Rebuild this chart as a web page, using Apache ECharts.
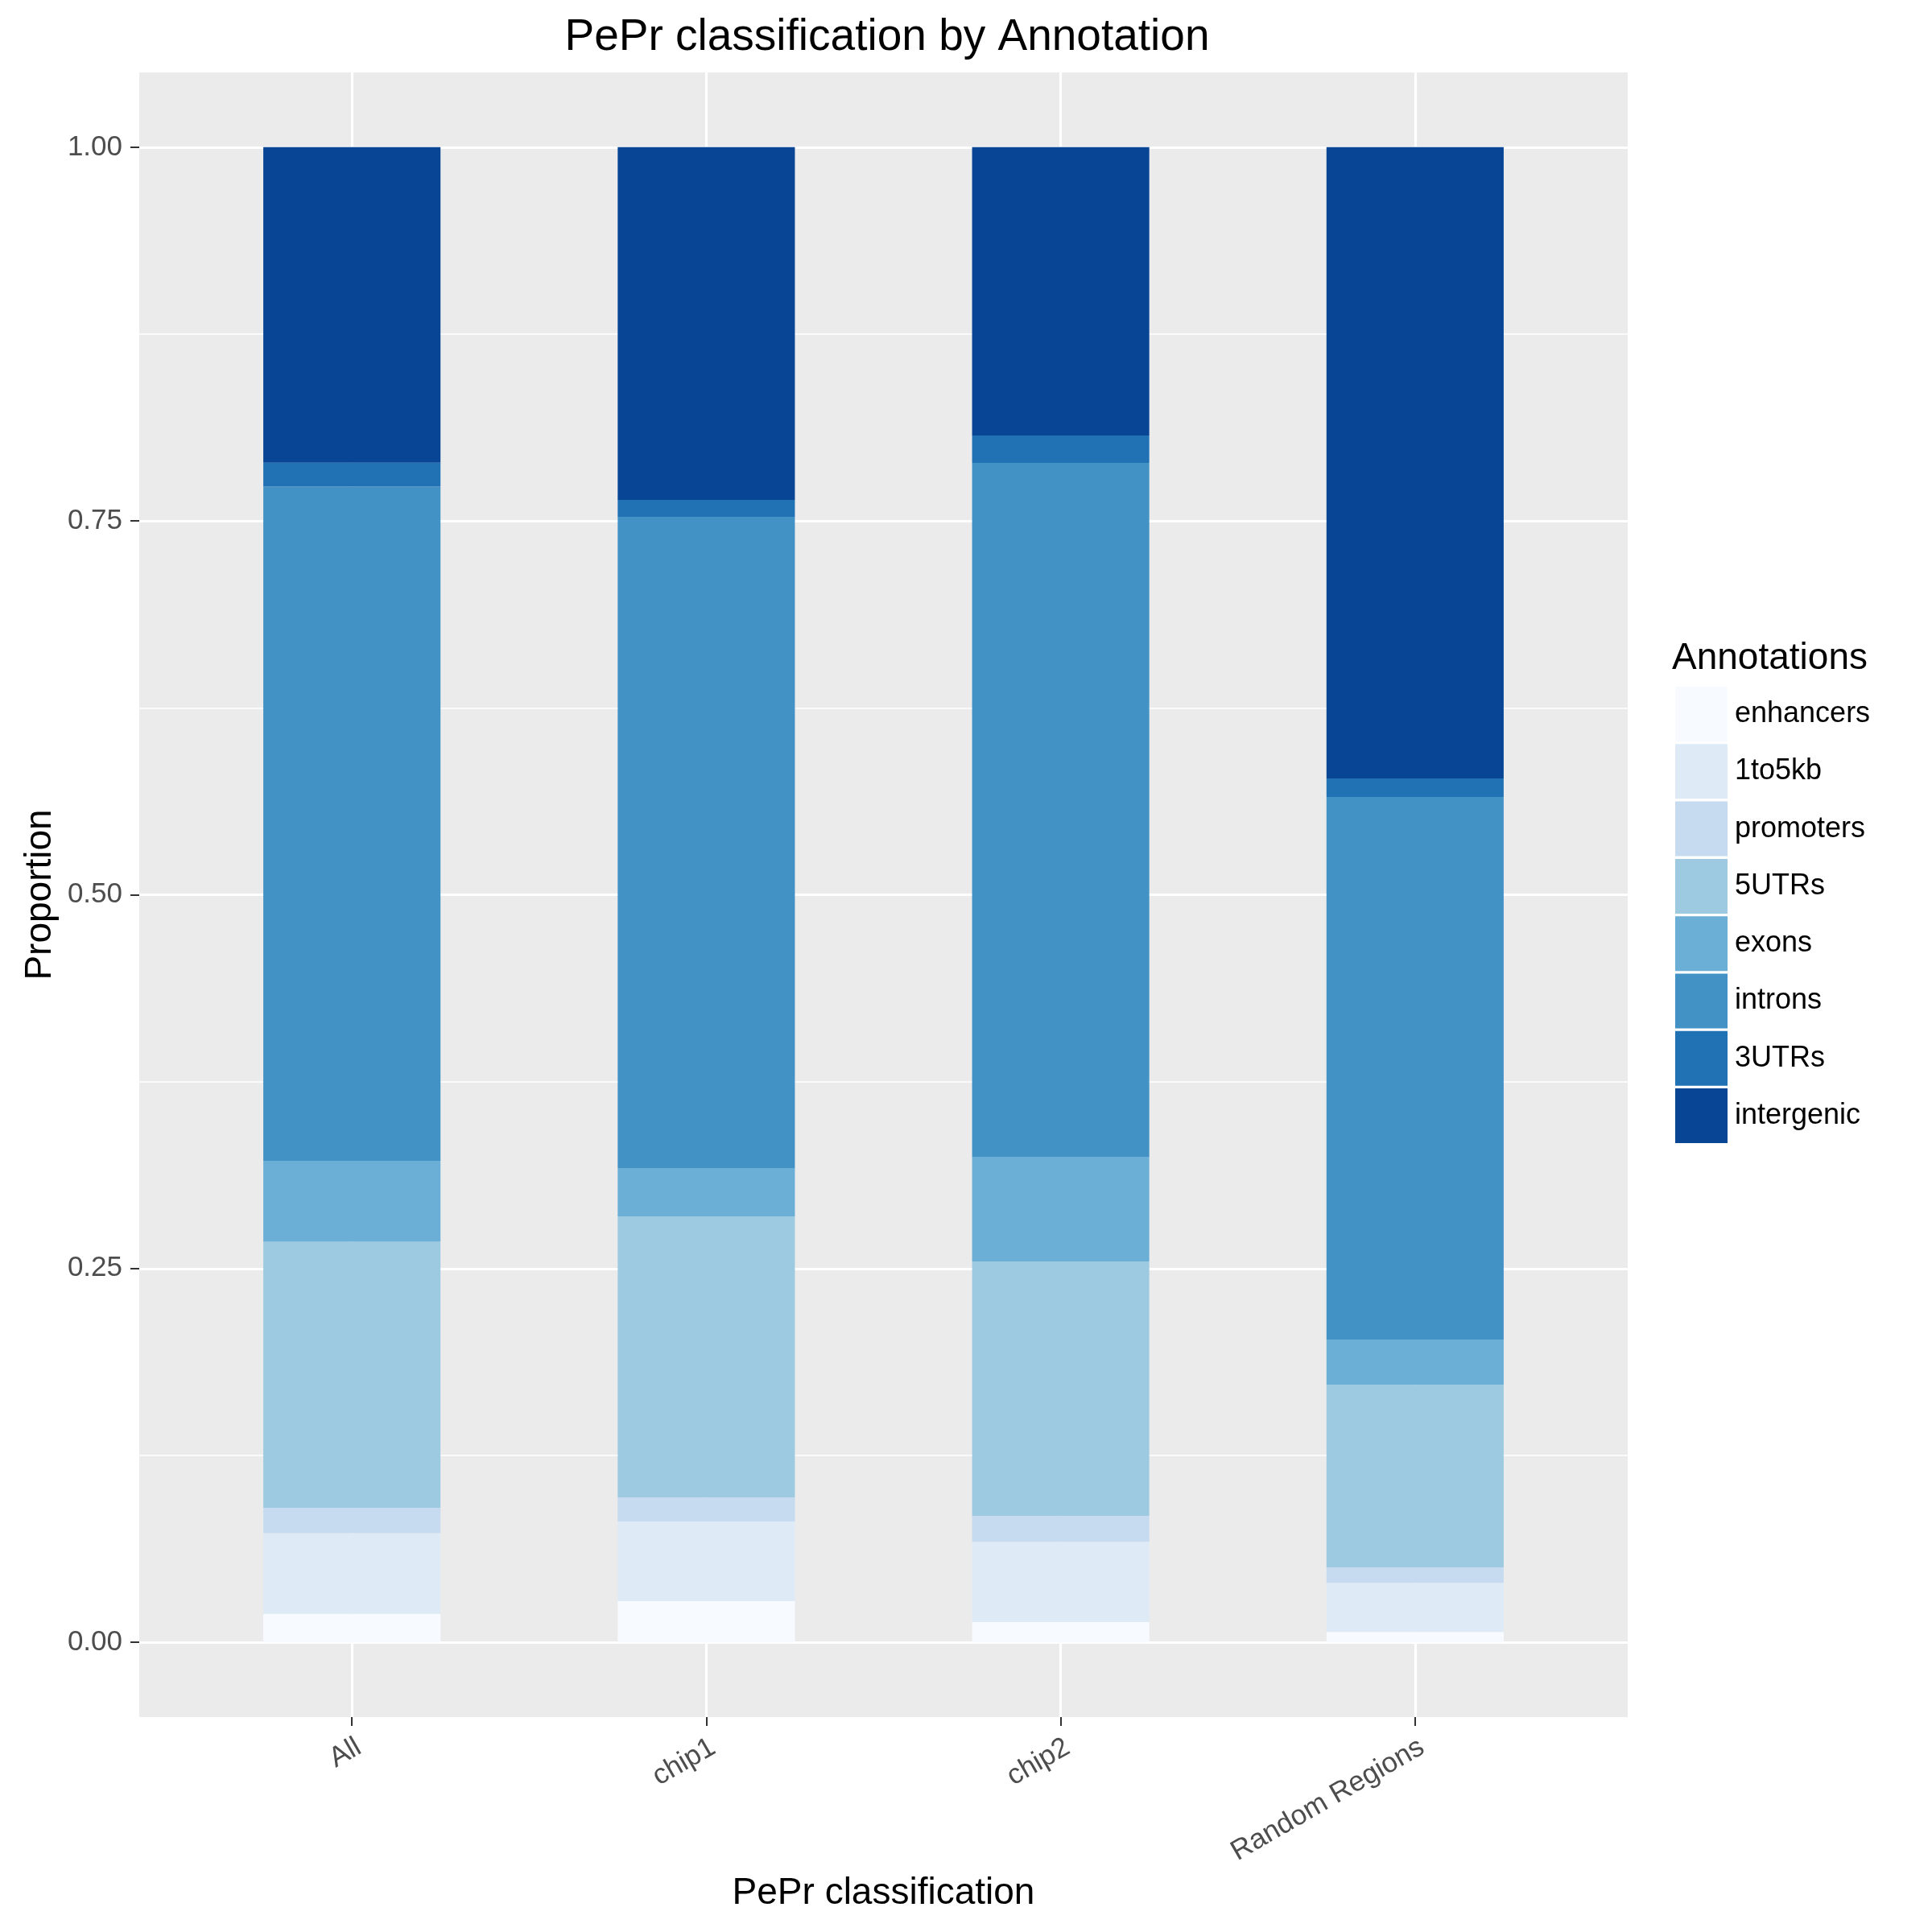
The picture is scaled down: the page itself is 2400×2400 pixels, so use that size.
<!DOCTYPE html>
<html>
<head>
<meta charset="utf-8">
<script src="https://cdn.jsdelivr.net/npm/echarts@6/dist/echarts.min.js"></script>
<style>
html, body { margin: 0; padding: 0; background: #ffffff; }
#chart { width: 2400px; height: 2400px; }
</style>
</head>
<body>
<div id="chart"></div>
<script>
// ---- Data ----
const categories = ['All', 'chip1', 'chip2', 'Random Regions'];
const annotations = ['enhancers', '1to5kb', 'promoters', '5UTRs', 'exons', 'introns', '3UTRs', 'intergenic'];
const enhancers  = [0.019, 0.0275, 0.0135, 0.007];
const kb1to5     = [0.054, 0.0533, 0.0538, 0.0328];
const promoters  = [0.017, 0.0161, 0.0172, 0.0103];
const utr5       = [0.178, 0.188, 0.1702, 0.1222];
const exons      = [0.054, 0.0323, 0.070, 0.0302];
const introns    = [0.451, 0.4356, 0.4642, 0.3629];
const utr3       = [0.016, 0.0113, 0.0183, 0.0124];
const intergenic = [0.211, 0.2359, 0.1928, 0.4222];
const yTickValues = [0, 0.25, 0.5, 0.75, 1];
const yMinorValues = [0.125, 0.375, 0.625, 0.875];

const seriesValues = [enhancers, kb1to5, promoters, utr5, exons, introns, utr3, intergenic];
const colors = ['#F7FBFF', '#DEEBF7', '#C6DBEF', '#9ECAE1', '#6BAED6', '#4292C6', '#2171B5', '#084594'];
const catPositions = categories.map((c, i) => i + 1);

const FONT = 'Liberation Sans, Arial, Helvetica, sans-serif';

// panel geometry (ggplot-like discrete expansion of 0.6 on each side)
const PANEL_LEFT = 173, PANEL_WIDTH = 1849, PANEL_TOP = 90, PANEL_HEIGHT = 2043;
const unit = PANEL_WIDTH / (categories.length - 1 + 1.2);

const chart = echarts.init(document.getElementById('chart'), null, { renderer: 'canvas', width: 2400, height: 2400 });

const series = annotations.map((name, k) => ({
  name: name,
  type: 'bar',
  stack: 'total',
  barWidth: '50%',
  xAxisIndex: 1,
  yAxisIndex: 2,
  itemStyle: { color: colors[k], borderWidth: 0 },
  emphasis: { disabled: true },
  data: seriesValues[k]
}));

const option = {
  backgroundColor: '#ffffff',
  animation: false,
  textStyle: { fontFamily: FONT },
  title: [
    {
      text: 'PePr classification by Annotation',
      left: 1097,
      textAlign: 'center',
      top: 14,
      textStyle: { fontFamily: FONT, fontSize: 55, fontWeight: 'normal', color: '#000000' }
    },
    {
      text: 'Annotations',
      left: 2072,
      top: 790,
      textStyle: { fontFamily: FONT, fontSize: 46, fontWeight: 'normal', color: '#000000' }
    }
  ],
  legend: {
    orient: 'vertical',
    left: 2076,
    top: 848,
    icon: 'rect',
    itemWidth: 65,
    itemHeight: 68,
    itemGap: 3.3,
    selectedMode: false,
    data: annotations,
    textStyle: { fontFamily: FONT, fontSize: 36, color: '#000000', padding: [0, 0, 0, 4] }
  },
  grid: [
    {
      left: PANEL_LEFT,
      top: PANEL_TOP,
      width: PANEL_WIDTH,
      height: PANEL_HEIGHT,
      show: true,
      backgroundColor: '#EBEBEB',
      borderWidth: 0,
      containLabel: false,
      outerBoundsMode: 'none'
    },
    {
      left: PANEL_LEFT + 0.6 * unit - 0.5 * unit,
      top: PANEL_TOP,
      width: categories.length * unit,
      height: PANEL_HEIGHT,
      show: false,
      containLabel: false,
      outerBoundsMode: 'none'
    }
  ],
  xAxis: [
    {
      gridIndex: 0,
      type: 'value',
      position: 'bottom',
      min: 0.4,
      max: categories.length + 0.6,
      name: 'PePr classification',
      nameLocation: 'middle',
      nameGap: 196,
      nameTextStyle: { fontFamily: FONT, fontSize: 46, color: '#000000' },
      axisLine: { show: false, onZero: false },
      axisTick: { show: true, length: 11, lineStyle: { color: '#333333', width: 2 }, customValues: catPositions },
      axisLabel: {
        show: true,
        customValues: catPositions,
        rotate: 30,
        margin: 20,
        align: 'right',
        verticalAlign: 'top',
        fontFamily: FONT,
        fontSize: 35,
        color: '#4D4D4D',
        formatter: function (v) { return categories[Math.round(v) - 1] || ''; }
      },
      splitLine: { show: true, lineStyle: { color: '#ffffff', width: 3.2 } }
    },
    {
      gridIndex: 1,
      type: 'category',
      data: categories,
      boundaryGap: true,
      show: false,
      axisLine: { show: false, onZero: false },
      axisTick: { show: false },
      axisLabel: { show: false },
      splitLine: { show: false }
    }
  ],
  yAxis: [
    {
      gridIndex: 0,
      type: 'value',
      position: 'left',
      min: -0.05,
      max: 1.05,
      name: 'Proportion',
      nameLocation: 'middle',
      nameRotate: 90,
      nameGap: 96,
      nameTextStyle: { fontFamily: FONT, fontSize: 46, color: '#000000' },
      axisLine: { show: false, onZero: false },
      axisTick: { show: true, length: 11, lineStyle: { color: '#333333', width: 2 }, customValues: yTickValues },
      axisLabel: {
        show: true,
        customValues: yTickValues,
        margin: 21,
        fontFamily: FONT,
        fontSize: 35,
        color: '#4D4D4D',
        formatter: function (v) { return v.toFixed(2); }
      },
      splitLine: { show: true, lineStyle: { color: '#ffffff', width: 3.2 } }
    },
    {
      gridIndex: 0,
      type: 'value',
      min: -0.05,
      max: 1.05,
      position: 'left',
      axisLine: { show: false, onZero: false },
      axisTick: { show: false, customValues: yMinorValues },
      axisLabel: { show: false, customValues: yMinorValues },
      splitLine: { show: true, lineStyle: { color: '#ffffff', width: 1.6 } }
    },
    {
      gridIndex: 1,
      type: 'value',
      min: -0.05,
      max: 1.05,
      show: false,
      axisLine: { show: false, onZero: false },
      axisTick: { show: false },
      axisLabel: { show: false },
      splitLine: { show: false }
    }
  ],
  series: series
};

chart.setOption(option);
</script>
</body>
</html>
